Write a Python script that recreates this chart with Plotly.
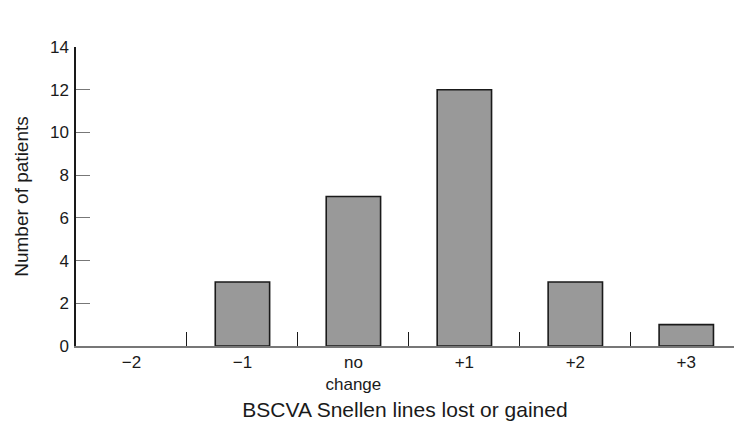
import plotly.graph_objects as go

categories = ["−2", "−1", "no<br>change", "+1", "+2", "+3"]
patients = [0, 3, 7, 12, 3, 1]
y_ticks = [0, 2, 4, 6, 8, 10, 12, 14]

FONT = "Liberation Sans, Arial, Helvetica, sans-serif"

fig = go.Figure(
    go.Bar(
        x=categories,
        y=patients,
        width=0.49,
        marker=dict(
            color="#999999",
            line=dict(color="#1a1a1a", width=[1.6 if v > 0 else 0 for v in patients]),
        ),
    )
)

fig.update_layout(
    width=734,
    height=421,
    margin=dict(l=76, r=0, t=47, b=75),
    paper_bgcolor="white",
    plot_bgcolor="white",
    showlegend=False,
    font=dict(family=FONT, color="#1a1a1a", size=17),
)

fig.update_xaxes(
    range=[-0.5, 5.43],
    automargin=False,
    showline=True,
    linecolor="#777777",
    linewidth=1.5,
    ticks="inside",
    tickson="boundaries",
    ticklen=14,
    tickwidth=1.3,
    tickcolor="#1a1a1a",
    tickfont=dict(size=17),
    ticklabelstandoff=0,
    showgrid=False,
    zeroline=False,
    title=dict(text="BSCVA Snellen lines lost or gained", font=dict(size=21), standoff=11),
)

fig.update_yaxes(
    range=[0, 14],
    automargin=False,
    tickvals=y_ticks,
    showline=True,
    linecolor="#1a1a1a",
    linewidth=1.5,
    ticks="inside",
    ticklen=14,
    tickwidth=1.3,
    tickcolor="#777777",
    tickfont=dict(size=17),
    ticklabelstandoff=2,
    showgrid=False,
    zeroline=False,
    title=dict(text="Number of patients", font=dict(size=19), standoff=16),
)

fig.write_html(
    "out.html",
    config={"displayModeBar": False},
    post_script="document.body.style.margin='0';document.body.style.overflow='hidden';",
)
